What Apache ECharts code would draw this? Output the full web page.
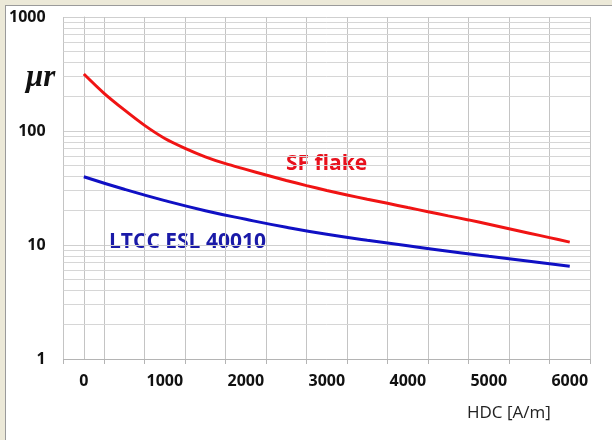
<!DOCTYPE html>
<html>
<head>
<meta charset="utf-8">
<script src="https://cdn.jsdelivr.net/npm/echarts@6/dist/echarts.min.js"></script>
<style>
  html, body { margin: 0; padding: 0; background: #ece9d8; }
  #chart {
    position: absolute; left: 5px; top: 5px;
    width: 606px; height: 434px;
    background: #fff;
    border-top: 1px solid #9a9a9a;
    border-left: 1px solid #9a9a9a;
  }
</style>
</head>
<body>
<div id="chart"></div>
<script>
// HDC categories [A/m] (axis cells, labelled every 1000)
var hdc = ['0', '500', '1000', '1500', '2000', '2500', '3000', '3500', '4000', '4500', '5000', '5500', '6000'];

// SF flake, read every 250 A/m
var sfH = [0, 250, 500, 750, 1000, 1250, 1500, 1750, 2000, 2250, 2500, 2750, 3000,
           3250, 3500, 3750, 4000, 4250, 4500, 4750, 5000, 5250, 5500, 5750, 6000];
var sfFlake = [316, 214, 153, 112, 86, 70.5, 59.4, 51.7, 46.1, 41.1, 36.8, 33.2, 30.1,
               27.5, 25.2, 23.2, 21.3, 19.6, 18.0, 16.6, 15.2, 13.9, 12.7, 11.6, 10.6];

// LTCC ESL 40010, read every 500 A/m
var ltccH = [0, 500, 1000, 1500, 2000, 2500, 3000, 3500, 4000, 4500, 5000, 5500, 6000];
var ltcc = [39.7, 30.8, 24.5, 20.0, 16.8, 14.3, 12.4, 11.0, 9.85, 8.8, 7.95, 7.2, 6.5];

// minor gridlines of the log axis (2..9 per decade)
var minorGrid = [2, 3, 4, 5, 6, 7, 8, 9, 20, 30, 40, 50, 60, 70, 80, 90, 200, 300, 400, 500, 600, 700, 800, 900];

function pairs(xs, ys) {
  return xs.map(function (x, i) { return [x, ys[i]]; });
}

var chart = echarts.init(document.getElementById('chart'));

var labelFont = { color: '#111', fontFamily: 'Open Sans', fontWeight: 'bold', fontSize: 16 };

var option = {
  animation: false,
  grid: { left: 57, top: 11, right: 22, bottom: 81 },
  xAxis: [
    {
      type: 'category',
      data: hdc,
      boundaryGap: true,
      axisLine: { lineStyle: { color: '#b4b4b4', width: 1 } },
      axisTick: { show: true, interval: 0, length: 5, lineStyle: { color: '#b4b4b4' } },
      axisLabel: Object.assign({ interval: 1, margin: 14 }, labelFont),
      splitLine: { show: true, interval: 0, lineStyle: { color: '#c4c4c4', width: 1 } }
    },
    {
      // hidden value axis carrying the curves, same span as the category cells
      type: 'value',
      min: -250,
      max: 6250,
      show: false,
      splitLine: { show: false }
    }
  ],
  yAxis: {
    type: 'log',
    logBase: 10,
    min: 1,
    max: 1000,
    axisLine: { show: true, lineStyle: { color: '#c4c4c4' } },
    axisTick: { show: false },
    axisLabel: Object.assign({
      margin: 18,
      formatter: function (v) { return String(Math.round(v)); }
    }, labelFont),
    splitLine: { show: true, lineStyle: { color: '#cfcfcf', width: 1 } }
  },
  series: [
    {
      name: 'SF flake',
      type: 'line',
      xAxisIndex: 1,
      data: pairs(sfH, sfFlake),
      smooth: 0.3,
      symbol: 'none',
      lineStyle: { color: '#f01414', width: 3 },
      z: 5,
      markLine: {
        silent: true,
        symbol: 'none',
        label: { show: false },
        lineStyle: { color: '#d6d6d6', width: 1, type: 'solid' },
        data: minorGrid.map(function (v) { return { yAxis: v }; }),
        z: 1
      }
    },
    {
      name: 'LTCC ESL 40010',
      type: 'line',
      xAxisIndex: 1,
      data: pairs(ltccH, ltcc),
      smooth: 0.5,
      symbol: 'none',
      lineStyle: { color: '#1010c4', width: 3 },
      z: 5
    }
  ],
  graphic: [
    {
      type: 'text', left: 20, top: 56,
      style: { text: 'μr', fill: '#111', font: 'italic bold 31px "Liberation Serif"' }
    },
    {
      type: 'text', left: 280, top: 148,
      style: { text: 'SF flake', fill: '#e8101c', font: 'bold 21px "Open Sans"' }
    },
    {
      type: 'text', left: 103, top: 226,
      style: { text: 'LTCC ESL 40010', fill: '#1a1aa8', font: 'bold 21px "Open Sans"' }
    },
    {
      type: 'text', left: 461, top: 399,
      style: { text: 'HDC [A/m]', fill: '#222', font: '17px "Open Sans"' }
    }
  ]
};

chart.setOption(option);
</script>
</body>
</html>
